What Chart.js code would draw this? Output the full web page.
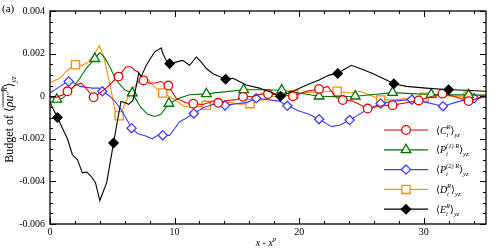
<!DOCTYPE html>
<html>
<head>
<meta charset="utf-8">
<script src="https://cdn.jsdelivr.net/npm/chart.js@4/dist/chart.umd.min.js"></script>
<style>
  html, body { margin: 0; padding: 0; background: #fff; }
</style>
</head>
<body>
<canvas id="chart" width="497" height="250"></canvas>
<script>
// budget terms, y in units of 1e-3
const eX = [0, 0.6, 1.0, 1.4, 1.8, 2.2, 2.6, 2.95, 3.3, 3.65, 4.0, 4.55, 5.1, 5.4, 5.7, 6.0, 6.3, 6.65, 6.92, 7.13, 7.32, 7.73, 7.99, 8.39, 8.93, 9.06, 9.33, 9.6, 10.1, 10.65, 11.2, 11.75, 12.15, 12.55, 13.05, 13.6, 14.1, 14.7, 15.2, 15.75, 16.8, 17.9, 18.5, 19.5, 20.6, 21.6, 22.4, 23.1, 23.5, 24.2, 24.9, 25.9, 27.0, 27.6, 28.6, 30.2, 32.0, 33.4, 35];
const eY = [-0.3, -1.0, -1.5, -2.0, -2.75, -2.98, -3.6, -3.56, -3.76, -4.06, -4.9, -4.06, -2.2, -1.2, -0.25, -0.3, -0.38, -0.2, 0.46, 1.1, 0.92, 1.45, 1.7, 2.07, 2.27, 2.0, 1.68, 1.53, 1.6, 1.68, 1.45, 1.84, 1.6, 1.3, 1.07, 0.92, 0.8, 0.84, 0.69, 0.53, 0.38, 0.15, 0.0, 0.23, 0.53, 0.76, 0.99, 1.07, 1.22, 1.45, 1.3, 1.07, 0.76, 0.58, 0.46, 0.38, 0.3, 0.28, 0.23];
const eMarks = [0.6, 5.1, 9.6, 14.1, 18.5, 23.1, 27.6, 32.0];

const cX = [0, 0.5, 1.0, 1.4, 2.1, 2.5, 3.0, 3.5, 4.0, 4.5, 5.05, 5.5, 6.1, 6.5, 6.8, 7.05, 7.5, 8.0, 8.5, 8.9, 9.5, 10.1, 10.9, 11.5, 12.3, 13.1, 13.5, 14.2, 15.0, 15.5, 16.3, 17.1, 17.5, 18.4, 19.5, 20.6, 21.6, 22.3, 23.0, 23.5, 24.3, 25.1, 25.5, 26.5, 27.5, 28.6, 29.6, 30.7, 31.5, 32.4, 33.6, 34.5, 35];
const cY = [-0.08, -0.05, 0.05, 0.23, 0.53, 0.61, 0.3, -0.05, 0.15, 0.38, 0.69, 0.92, 1.38, 1.38, 1.22, 1.15, 0.74, 0.61, 0.63, 0.69, 0.5, -0.08, -0.31, -0.35, -0.39, -0.23, -0.31, -0.2, -0.16, -0.03, 0.0, 0.12, 0.1, 0.07, 0.0, 0.23, 0.34, 0.46, -0.08, -0.18, -0.23, -0.46, -0.58, -0.46, -0.42, -0.31, -0.2, 0.0, 0.12, 0.0, -0.23, -0.08, -0.03];
const cMarks = [1.4, 3.5, 5.5, 7.5, 9.5, 11.5, 13.5, 15.5, 17.5, 19.5, 21.6, 23.5, 25.5, 27.5, 29.6, 31.5, 33.6];

const p1X = [0, 0.55, 1.0, 1.6, 2.4, 2.9, 3.6, 4.0, 4.4, 4.8, 5.3, 6.0, 6.6, 6.9, 7.3, 7.85, 8.4, 8.9, 9.55, 10.4, 11.2, 12.55, 13.6, 15.55, 17.0, 18.6, 20.0, 21.6, 23.0, 24.5, 26.0, 27.5, 29.0, 30.6, 32.0, 33.6, 35];
const p1Y = [-0.31, -0.15, -0.1, 0.23, 0.84, 1.3, 1.76, 2.05, 1.8, 1.38, 0.76, 0.3, 0.15, -0.15, -0.54, -0.85, -0.95, -0.85, -0.34, -0.08, 0.07, 0.11, 0.18, 0.3, 0.3, 0.28, 0.15, 0.0, -0.02, 0.0, 0.08, 0.17, 0.12, 0.08, 0.06, 0.06, 0.05];
const p1Marks = [0.55, 3.6, 6.6, 9.55, 12.55, 15.55, 18.6, 21.6, 24.5, 27.5, 30.6, 33.6];

const p2X = [0, 0.6, 1.2, 1.5, 2.0, 2.4, 3.4, 4.0, 4.2, 4.8, 5.2, 5.6, 6.0, 6.55, 7.05, 7.7, 8.2, 8.65, 9.05, 9.6, 10.0, 10.4, 10.9, 11.55, 12.3, 13.1, 14.05, 15.0, 15.8, 16.55, 17.3, 18.4, 19.05, 20.0, 20.8, 21.6, 22.6, 23.3, 24.05, 24.7, 25.4, 26.55, 27.5, 29.05, 30.3, 31.55, 32.9, 34.05, 35];
const p2Y = [0.15, 0.38, 0.61, 0.69, 0.61, 0.46, 0.38, 0.38, 0.23, 0.0, -0.23, -0.54, -0.92, -1.5, -1.76, -1.87, -2.0, -1.84, -1.83, -1.84, -1.53, -1.2, -1.05, -0.81, -0.54, -0.38, -0.43, -0.35, -0.3, -0.1, -0.15, -0.23, -0.45, -0.7, -0.85, -1.08, -1.43, -1.35, -1.12, -0.9, -0.65, -0.34, -0.23, -0.16, -0.3, -0.47, -0.23, -0.1, -0.03];
const p2Marks = [1.5, 4.2, 6.55, 9.05, 11.55, 14.05, 16.55, 19.05, 21.6, 24.05, 26.55, 29.05, 31.55, 34.05];

const dX = [0, 0.8, 1.4, 2.05, 2.6, 3.1, 3.6, 3.95, 4.25, 4.5, 4.9, 5.2, 5.55, 5.8, 6.0, 6.4, 6.8, 7.2, 7.7, 8.1, 8.65, 9.05, 10.0, 10.7, 11.5, 12.55, 13.5, 14.4, 15.2, 16.05, 16.8, 17.9, 18.7, 19.55, 20.6, 21.6, 23.05, 24.1, 24.9, 25.9, 26.55, 27.8, 29.1, 30.05, 31.3, 32.4, 33.55, 35];
const dY = [0.64, 0.84, 1.22, 1.48, 1.45, 1.61, 2.0, 2.37, 2.0, 1.38, 0.3, -0.62, -0.92, -0.65, -0.38, 0.15, 0.46, 0.76, 0.92, 0.61, 0.3, 0.15, -0.15, -0.46, -0.54, -0.43, -0.34, -0.28, -0.38, -0.35, -0.23, 0.0, 0.0, 0.07, 0.18, 0.2, 0.23, 0.15, 0.23, 0.0, -0.18, -0.16, -0.08, -0.05, 0.03, 0.0, 0.0, 0.03];
const dMarks = [2.05, 5.55, 9.05, 12.55, 16.05, 19.55, 23.05, 26.55, 30.05, 33.55];

const xTicks = [0, 10, 20, 30];
const yTicks = [-6, -4, -2, 0, 2, 4];

const SERIF = '"Liberation Serif", "DejaVu Serif", serif';
const f = (size, it) => `${it ? "italic " : ""}${size}px ${SERIF}`;

// styles, drawn in this order (first on top)
const series = [
  { key: "E", xs: eX, ys: eY, marks: eMarks, color: "#000", style: "rectRot", r: 4.6, fill: "#000", sup: "R" },
  { key: "C", xs: cX, ys: cY, marks: cMarks, color: "rgb(230,0,0)", style: "circle", r: 4.3, fill: "#fff", sup: "R" },
  { key: "P", xs: p1X, ys: p1Y, marks: p1Marks, color: "rgb(0,115,0)", style: "triangle", r: 5.6, fill: "#fff", sup: "(1) R" },
  { key: "P", xs: p2X, ys: p2Y, marks: p2Marks, color: "rgb(60,60,255)", style: "rectRot", r: 4.6, fill: "#fff", sup: "(2) R" },
  { key: "D", xs: dX, ys: dY, marks: dMarks, color: "rgb(255,140,0)", style: "rect", r: 5.8, fill: "#fff", sup: "R" },
];
const legendOrder = [1, 2, 3, 4, 0];

// draw a list of text runs, sub/superscripts via dy, stacked runs share x
const drawRuns = (ctx, runs, x, y, measureOnly) => {
  let cx = x, lastX = x;
  runs.forEach((r) => {
    ctx.font = r.font;
    const w = ctx.measureText(r.t).width;
    const px = r.stack ? lastX : cx;
    if (!measureOnly) {
      ctx.fillText(r.t, px, y + (r.dy || 0));
      if (r.over) {
        ctx.beginPath();
        ctx.moveTo(px, y - r.over);
        ctx.lineTo(px + w + (r.overExtra || 0), y - r.over);
        ctx.stroke();
      }
    }
    if (r.stack) cx = Math.max(cx, px + w);
    else { lastX = px; cx = px + w; }
  });
  return cx - x;
};

const drawMarker = (ctx, s, x, y) => {
  ctx.beginPath();
  const r = s.r;
  if (s.style === "circle") ctx.arc(x, y, r, 0, Math.PI * 2);
  else if (s.style === "rect") { const h = r * Math.SQRT1_2; ctx.rect(x - h, y - h, 2 * h, 2 * h); }
  else if (s.style === "rectRot") { ctx.moveTo(x, y - r); ctx.lineTo(x + r, y); ctx.lineTo(x, y + r); ctx.lineTo(x - r, y); ctx.closePath(); }
  else if (s.style === "triangle") {
    for (let k = 0; k < 3; k++) {
      const a = k * 2 * Math.PI / 3;
      ctx.lineTo(x + Math.sin(a) * r, y - Math.cos(a) * r);
    }
    ctx.closePath();
  }
  ctx.fillStyle = s.fill;
  ctx.fill();
  ctx.lineWidth = 1.3;
  ctx.strokeStyle = s.color;
  ctx.stroke();
};

const decor = {
  id: "decor",
  afterDatasetsDraw(chart) {
    const { ctx, chartArea: a, scales: { x, y } } = chart;
    ctx.save();
    ctx.strokeStyle = "#000";
    ctx.lineWidth = 1;
    // inward ticks on all four sides
    ctx.beginPath();
    for (let v = 0; v <= 35; v += 2) {
      if (v % 10 === 0) continue;
      const px = Math.round(x.getPixelForValue(v)) + 0.5;
      ctx.moveTo(px, a.bottom); ctx.lineTo(px, a.bottom - 3);
      ctx.moveTo(px, a.top); ctx.lineTo(px, a.top + 3);
    }
    xTicks.forEach((v) => {
      const px = Math.round(x.getPixelForValue(v)) + 0.5;
      ctx.moveTo(px, a.bottom); ctx.lineTo(px, a.bottom - 6);
      ctx.moveTo(px, a.top); ctx.lineTo(px, a.top + 6);
    });
    for (let v = -6; v <= 4; v += 0.5) {
      const major = yTicks.includes(v);
      const py = Math.round(y.getPixelForValue(v)) + 0.5;
      const len = major ? 6 : 3;
      ctx.moveTo(a.left, py); ctx.lineTo(a.left + len, py);
      ctx.moveTo(a.right, py); ctx.lineTo(a.right - len, py);
    }
    ctx.stroke();
    ctx.lineWidth = 1.3;
    ctx.strokeRect(a.left, a.top, a.right - a.left, a.bottom - a.top);

    // legend
    ctx.fillStyle = "#000";
    ctx.textBaseline = "alphabetic";
    legendOrder.forEach((idx, i) => {
      const s = series[idx];
      const ly = a.top + 119 + i * 19.8;
      const lx0 = a.right - 102, lx1 = a.right - 58;
      ctx.beginPath();
      ctx.moveTo(lx0, ly); ctx.lineTo(lx1, ly);
      ctx.lineWidth = 1.2;
      ctx.strokeStyle = s.color;
      ctx.stroke();
      drawMarker(ctx, s, (lx0 + lx1) / 2, ly);
      ctx.fillStyle = "#000";
      drawRuns(ctx, [
        { t: "\u27E8", font: f(10) },
        { t: s.key, font: f(10, true) },
        { t: "i", font: f(6.5, true), dy: 3 },
        { t: s.sup, font: f(6.5, true), dy: -5, stack: true },
        { t: "\u27E9", font: f(10) },
        { t: "yz", font: f(6.5, true), dy: 3 },
      ], a.right - 50, ly + 3.5);
    });

    // y title, rotated
    const runs = [
      { t: "Budget of ", font: f(12) },
      { t: "\u27E8", font: f(12) },
      { t: "\u03C1", font: f(12, true), over: 10, overExtra: 16 },
      { t: "u", font: f(12, true) },
      { t: "\u2033", font: f(9) },
      { t: "R", font: f(7.5, true), dy: -6 },
      { t: "\u27E9", font: f(12) },
      { t: "yz", font: f(7.5, true), dy: 3 },
    ];
    ctx.save();
    ctx.translate(13, (a.top + a.bottom) / 2 + 2);
    ctx.rotate(-Math.PI / 2);
    ctx.lineWidth = 0.8;
    ctx.strokeStyle = "#000";
    const tw = drawRuns(ctx, runs, 0, 0, true);
    drawRuns(ctx, runs, -tw / 2, 0);
    ctx.restore();

    // x title
    const xr = [
      { t: "x - x", font: f(10, true) },
      { t: "p", font: f(7, true), dy: -5 },
    ];
    const xw = drawRuns(ctx, xr, 0, 0, true);
    drawRuns(ctx, xr, (a.left + a.right) / 2 - 2 - xw / 2, 246);

    // panel tag
    ctx.font = f(11);
    ctx.fillText("(a)", 2, 12);
    ctx.restore();
  },
};

new Chart(document.getElementById("chart"), {
  type: "scatter",
  data: {
    datasets: series.map((s) => ({
      data: s.xs.map((xv, i) => ({ x: xv, y: s.ys[i] })),
      showLine: true,
      borderColor: s.color,
      borderWidth: 1.1,
      tension: 0,
      fill: false,
      pointStyle: s.style,
      pointRadius: (c) => (c.raw && s.marks.includes(c.raw.x) ? s.r : 0),
      pointHoverRadius: 0,
      pointBackgroundColor: s.fill,
      pointBorderColor: s.color,
      pointBorderWidth: 1.3,
    })),
  },
  options: {
    responsive: false,
    animation: false,
    devicePixelRatio: 1,
    layout: { padding: { left: 0, right: 11, top: 6, bottom: 0 } },
    plugins: { legend: { display: false }, tooltip: { enabled: false } },
    scales: {
      x: {
        type: "linear",
        min: 0,
        max: 35,
        grid: { display: false, drawTicks: false },
        border: { display: false },
        ticks: { color: "#000", font: { family: SERIF, size: 10 }, padding: 2, maxRotation: 0 },
        afterBuildTicks: (s) => { s.ticks = xTicks.map((v) => ({ value: v })); },
        afterFit: (s) => { s.height = 26; },
      },
      y: {
        min: -6,
        max: 4,
        grid: { display: false, drawTicks: false },
        border: { display: false },
        ticks: {
          color: "#000",
          font: { family: SERIF, size: 10 },
          padding: 5,
          callback: (v) => (v === 0 ? "0" : (v / 1000).toFixed(3)),
        },
        afterBuildTicks: (s) => { s.ticks = yTicks.map((v) => ({ value: v })); },
        afterFit: (s) => { s.width = 50; },
      },
    },
  },
  plugins: [decor],
});
</script>
</body>
</html>
